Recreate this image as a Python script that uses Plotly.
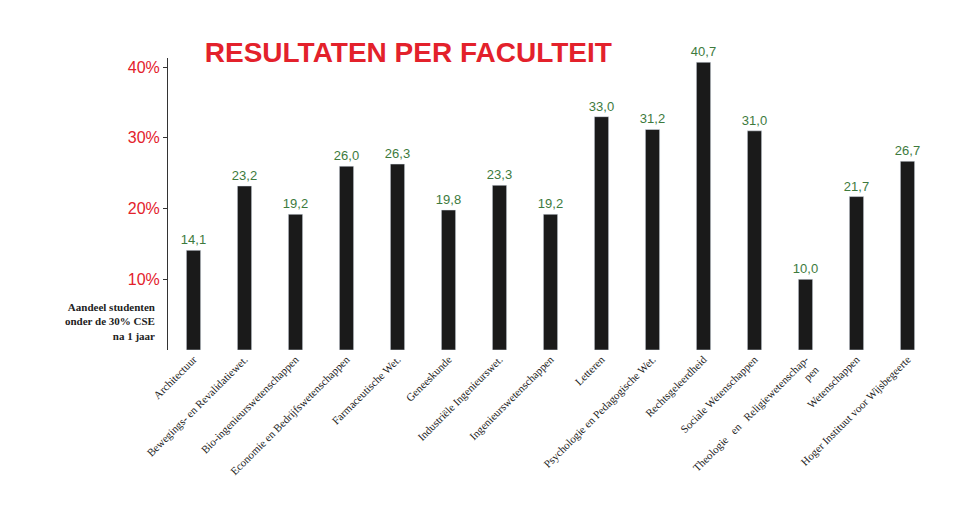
import plotly.graph_objects as go

faculteiten = [
    "Architectuur", "Bewegings- en Revalidatiewet.", "Bio-ingenieurswetenschappen",
    "Economie en Bedrijfswetenschappen", "Farmaceutische Wet.", "Geneeskunde",
    "Industriële Ingenieurswet.", "Ingenieurswetenschappen", "Letteren",
    "Psychologie en Pedagogische Wet.", "Rechtsgeleerdheid", "Sociale Wetenschappen",
    "Theologie   en   Religiewetenschap-<br>pen", "Wetenschappen",
    "Hoger Instituut voor Wijsbegeerte",
]
aandeel = [14.1, 23.2, 19.2, 26.0, 26.3, 19.8, 23.3, 19.2, 33.0, 31.2, 40.7, 31.0, 10.0, 21.7, 26.7]
labels = [f"{v:.1f}".replace(".", ",") for v in aandeel]
y_ticks = [10, 20, 30, 40]

fig = go.Figure(go.Bar(
    x=faculteiten, y=aandeel, marker_color="#1a1a1a", width=0.28,
    text=labels, textposition="outside", cliponaxis=False, constraintext="none",
    textfont=dict(color="#3d7a3d", size=13, family="Liberation Sans"),
))

fig.update_layout(
    width=960, height=526, plot_bgcolor="white", paper_bgcolor="white",
    margin=dict(l=160, r=35, t=50, b=184), showlegend=False,
    title=dict(text="<b>RESULTATEN PER FACULTEIT</b>", x=0.205, xanchor="left", y=0.935,
               font=dict(color="#e3212b", size=28, family="Liberation Sans")),
    xaxis=dict(tickangle=-45, showline=False, ticks="", automargin=False,
               tickfont=dict(family="Liberation Serif", size=11, color="#222")),
    yaxis=dict(range=[0, 41.3], tickvals=y_ticks, ticktext=[f"{t}%" for t in y_ticks],
               showgrid=False, zeroline=False, showline=True, linecolor="#333", linewidth=1,
               ticks="outside", ticklen=4, tickcolor="#333", automargin=False,
               tickfont=dict(color="#e3212b", size=16, family="Liberation Sans")),
    annotations=[dict(text="<b>Aandeel studenten<br>onder de 30% CSE<br>na 1 jaar</b>",
                      xref="paper", yref="paper", x=-0.015, y=0.02, xanchor="right", yanchor="bottom",
                      align="right", showarrow=False,
                      font=dict(family="Liberation Serif", size=11, color="#222"))],
)

fig.write_html("out.html")
